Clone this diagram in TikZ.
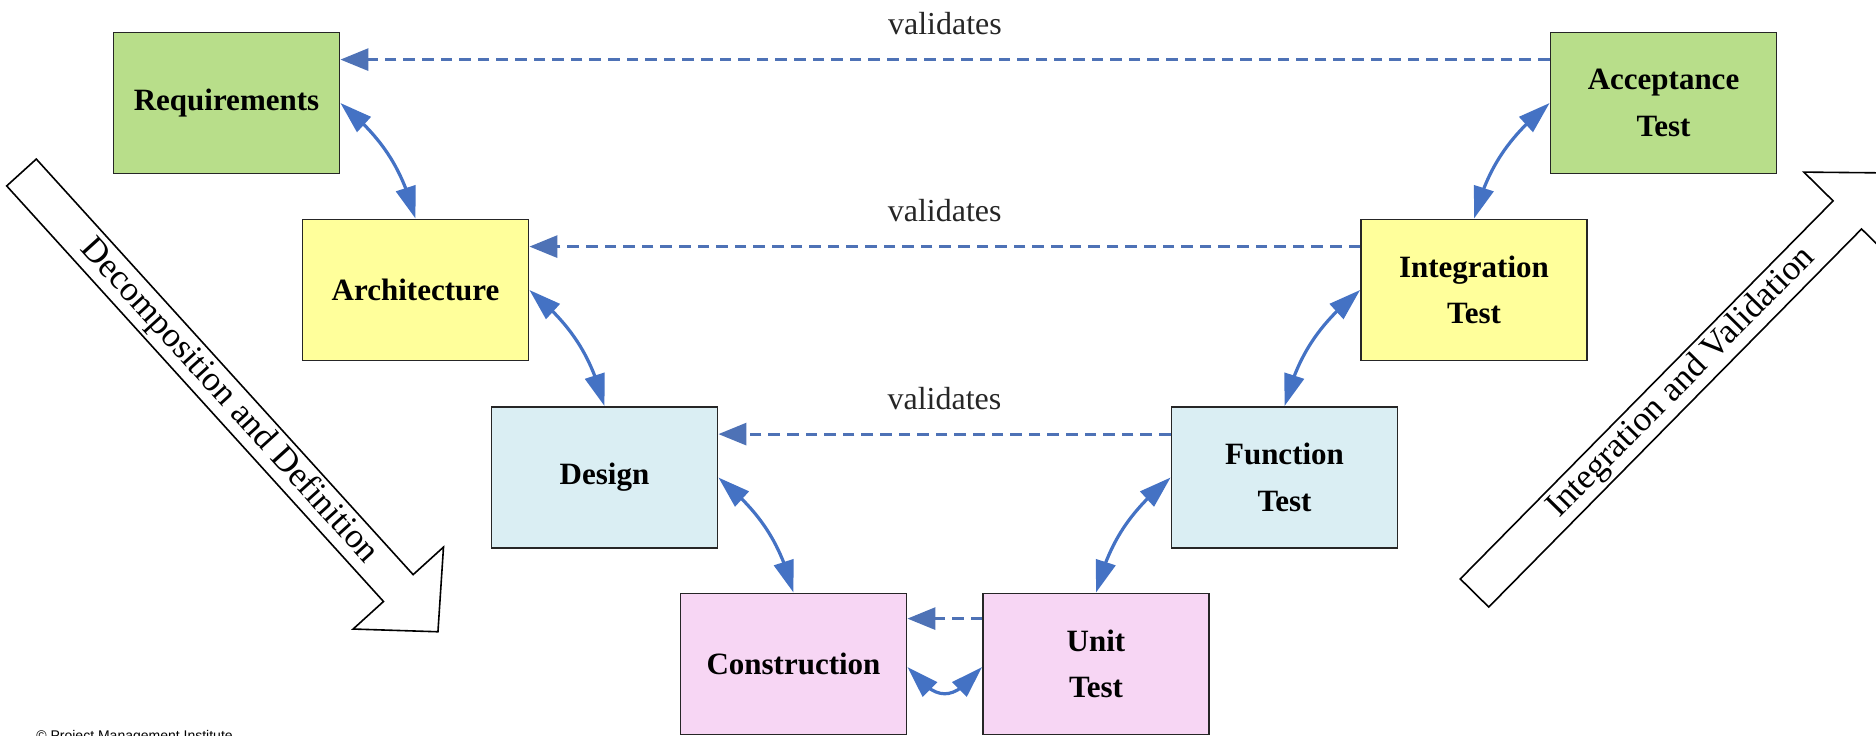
\documentclass[tikz,border=0pt]{standalone}
\usepackage{fontspec}
\setmainfont{Liberation Serif}
\newfontfamily\creditfont{Liberation Sans}
\usetikzlibrary{arrows.meta,bending}

\definecolor{reqgreen}{RGB}{184,222,138}
\definecolor{archyellow}{RGB}{255,255,155}
\definecolor{designblue}{RGB}{218,238,243}
\definecolor{buildpink}{RGB}{247,214,244}
\definecolor{linkblue}{RGB}{68,114,196}
\definecolor{dashblue}{RGB}{78,114,182}

\begin{document}
\begin{tikzpicture}[x=0.5pt,y=0.5pt,
  stage/.style={draw=black!85, line width=0.9pt, minimum width=113pt,
    minimum height=70.5pt, inner sep=0pt, align=center,
    font=\fontsize{15.5}{23.3}\selectfont\bfseries},
  link/.style={draw=linkblue, line width=1.6pt,
    {Triangle[length=16pt,width=10pt]}-{Triangle[length=16pt,width=10pt]}},
  validate/.style={draw=dashblue, line width=1.5pt,
    dash pattern=on 5.8pt off 3.5pt, -{Triangle[length=14pt,width=11pt]}},
  vlabel/.style={font=\fontsize{16}{19}\selectfont, text=black!85, inner sep=0pt},
  flow/.style={draw=black, line width=0.8pt, fill=white},
  flowtext/.style={font=\fontsize{17.5}{20}\selectfont, inner sep=0pt}
]
\useasboundingbox (0,0) rectangle (1876,735);
\clip (0,0) rectangle (1876,735);

% wide outline arrows on both sides of the V
\begin{scope}[shift={(21.5,562.5)}, rotate=-47.8]
  \draw[flow] (0,20) -- (561,20) -- (561,61) -- (620,0) -- (561,-61)
    -- (561,-20) -- (0,-20) -- cycle;
  \node[flowtext, rotate=-47.8] (down) at (309,0) {Decomposition and Definition};
\end{scope}
\begin{scope}[shift={(1474.5,142)}, rotate=45.4]
  \draw[flow] (0,20) -- (531,20) -- (531,61) -- (590,0) -- (531,-61)
    -- (531,-20) -- (0,-20) -- cycle;
  \node[flowtext, rotate=45.4] (up) at (295,0) {Integration and Validation};
\end{scope}

% stages, left branch down and right branch up
\node[stage, fill=reqgreen]   (req)    at (226.5,632) {Requirements};
\node[stage, fill=archyellow] (arch)   at (415.5,445) {Architecture};
\node[stage, fill=designblue] (design) at (604.5,257.5) {Design};
\node[stage, fill=buildpink]  (constr) at (793.5,71) {Construction};
\node[stage, fill=buildpink]  (unit)   at (1096,71) {Unit\\Test};
\node[stage, fill=designblue] (func)   at (1284.5,257.5) {Function\\Test};
\node[stage, fill=archyellow] (integ)  at (1474,445) {Integration\\Test};
\node[stage, fill=reqgreen]   (accept) at (1663.5,632) {Acceptance\\Test};

% validation links across the V
\draw[validate] ([yshift=-14pt]accept.north west) --
  node[vlabel, yshift=18pt] (v1) {validates} ([yshift=-14pt]req.north east);
\draw[validate] ([yshift=-14pt]integ.north west) --
  node[vlabel, yshift=18pt] (v2) {validates} ([yshift=-14pt]arch.north east);
\draw[validate] ([yshift=-14pt]func.north west) --
  node[vlabel, yshift=18pt] (v3) {validates} ([yshift=-14pt]design.north east);
\draw[validate] ([yshift=-13pt]unit.north west) -- ([yshift=-13pt]constr.north east);

% two-way links between neighbouring stages
\draw[link] (req.east) to[out=-40,in=105] (arch.north);
\draw[link] (arch.east) to[out=-40,in=105] (design.north);
\draw[link] (design.east) to[out=-40,in=105] (constr.north);
\draw[link] (accept.west) to[out=-140,in=75] (integ.north);
\draw[link] (integ.west) to[out=-140,in=75] (func.north);
\draw[link] (func.west) to[out=-140,in=75] (unit.north);
\draw[link] ([yshift=-1.5pt]constr.east) to[out=-50,in=-130,looseness=1.6] ([yshift=-1.5pt]unit.west);

% credit line along the lower edge
\node[font=\creditfont\fontsize{7}{8}\selectfont, anchor=north west, inner sep=0pt]
  (credit) at (36,5) {\textcopyright{} Project Management Institute};
\end{tikzpicture}
\end{document}
